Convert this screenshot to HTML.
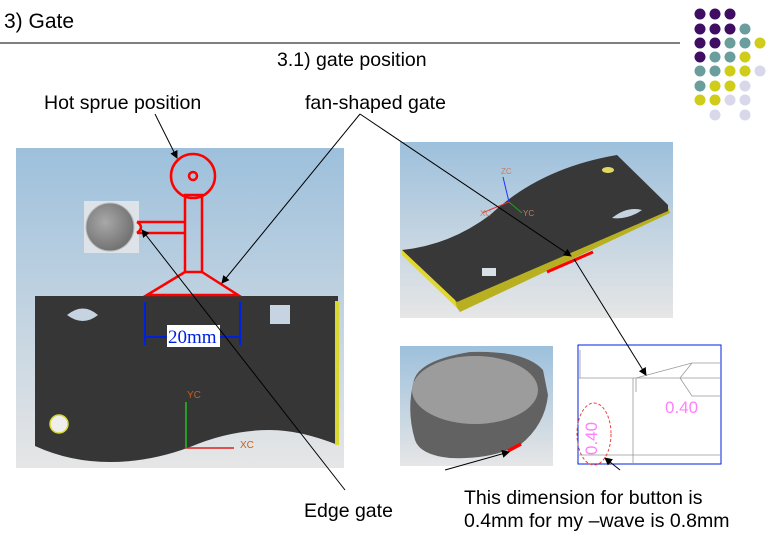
<!DOCTYPE html>
<html><head><meta charset="utf-8"><style>
body{margin:0;background:#fff;}
svg{display:block;font-family:"Liberation Sans",sans-serif;}
</style></head><body>
<svg width="772" height="535" viewBox="0 0 772 535" xmlns="http://www.w3.org/2000/svg">
<defs>
<linearGradient id="sky" x1="0" y1="0" x2="0" y2="1"><stop offset="0" stop-color="#9dc0dc"/><stop offset="1" stop-color="#e6e6e6"/></linearGradient>
<radialGradient id="btn" cx="0.4" cy="0.4" r="0.7"><stop offset="0" stop-color="#a8a8a8"/><stop offset="1" stop-color="#6a6a6a"/></radialGradient>
<marker id="ar" markerWidth="8" markerHeight="8" refX="7" refY="4" orient="auto" markerUnits="userSpaceOnUse"><path d="M0,0 L8,4 L0,8 z" fill="#000"/></marker>
</defs>
<text x="4" y="28" font-size="21">3) Gate</text>
<line x1="0" y1="43" x2="680" y2="43" stroke="#000" stroke-width="1"/>
<text x="277" y="66" font-size="19.5">3.1) gate position</text>
<text x="44" y="109" font-size="19.5">Hot sprue position</text>
<text x="305" y="109" font-size="19.5">fan-shaped gate</text>
<text x="304" y="517" font-size="19.5">Edge gate</text>
<text x="464" y="504" font-size="19.5">This dimension for button is</text>
<text x="464" y="527" font-size="19.5">0.4mm for my –wave is 0.8mm</text>

<g>
<circle cx="700" cy="14" r="5.5" fill="#3f0e62"/><circle cx="715" cy="14" r="5.5" fill="#3f0e62"/><circle cx="730" cy="14" r="5.5" fill="#3f0e62"/>
<circle cx="700" cy="29" r="5.5" fill="#3f0e62"/><circle cx="715" cy="29" r="5.5" fill="#3f0e62"/><circle cx="730" cy="29" r="5.5" fill="#3f0e62"/><circle cx="745" cy="29" r="5.5" fill="#6a9e9c"/>
<circle cx="700" cy="43" r="5.5" fill="#3f0e62"/><circle cx="715" cy="43" r="5.5" fill="#3f0e62"/><circle cx="730" cy="43" r="5.5" fill="#6a9e9c"/><circle cx="745" cy="43" r="5.5" fill="#6a9e9c"/><circle cx="760" cy="43" r="5.5" fill="#cfcc1a"/>
<circle cx="700" cy="57" r="5.5" fill="#3f0e62"/><circle cx="715" cy="57" r="5.5" fill="#6a9e9c"/><circle cx="730" cy="57" r="5.5" fill="#6a9e9c"/><circle cx="745" cy="57" r="5.5" fill="#cfcc1a"/>
<circle cx="700" cy="71" r="5.5" fill="#6a9e9c"/><circle cx="715" cy="71" r="5.5" fill="#6a9e9c"/><circle cx="730" cy="71" r="5.5" fill="#cfcc1a"/><circle cx="745" cy="71" r="5.5" fill="#cfcc1a"/><circle cx="760" cy="71" r="5.5" fill="#d9d8ea"/>
<circle cx="700" cy="86" r="5.5" fill="#6a9e9c"/><circle cx="715" cy="86" r="5.5" fill="#cfcc1a"/><circle cx="730" cy="86" r="5.5" fill="#cfcc1a"/><circle cx="745" cy="86" r="5.5" fill="#d9d8ea"/>
<circle cx="700" cy="100" r="5.5" fill="#cfcc1a"/><circle cx="715" cy="100" r="5.5" fill="#cfcc1a"/><circle cx="730" cy="100" r="5.5" fill="#d9d8ea"/><circle cx="745" cy="100" r="5.5" fill="#d9d8ea"/>
<circle cx="715" cy="115" r="5.5" fill="#d9d8ea"/><circle cx="745" cy="115" r="5.5" fill="#d9d8ea"/>
</g>

<!-- left image -->
<rect x="16" y="148" width="328" height="320" fill="url(#sky)"/>
<path d="M35,296 L338,296 L338,445 Q300,430 270,430 Q230,430 190,447 Q150,462 110,462 Q70,462 35,446 Z" fill="#363636"/>
<rect x="335" y="301" width="4" height="144" fill="#d8d830"/>
<path d="M67,315 Q83,302 98,315 Q83,327 67,315Z" fill="#c5d4e0"/>
<rect x="270" y="305" width="20" height="19" fill="#c5d4e0"/>
<circle cx="59" cy="424" r="9" fill="#eee" stroke="#d8d830" stroke-width="1.5"/>
<line x1="186" y1="402" x2="186" y2="448" stroke="#20c020" stroke-width="1.5"/>
<line x1="186" y1="448" x2="234" y2="448" stroke="#e02020" stroke-width="1.5"/>
<text x="187" y="398" font-size="10" fill="#c06020">YC</text>
<text x="240" y="448" font-size="10" fill="#c06020">XC</text>
<rect x="84" y="201" width="55" height="52" fill="#dde3e8"/>
<circle cx="110" cy="227" r="24" fill="url(#btn)" stroke="#bbb"/>
<g fill="none" stroke="#f00" stroke-width="2.5">
<circle cx="193" cy="176" r="22"/><circle cx="193" cy="176" r="4"/>
<rect x="185" y="195" width="17" height="77"/>
<path d="M137,222 L185,222 M137,233 L185,233 M137,222 Q145,227 137,233"/>
<path d="M185,272 L147,295 L238,295 L202,272"/>
</g>
<g stroke="#0020e0" stroke-width="2" fill="none">
<line x1="145" y1="302" x2="145" y2="345"/><line x1="240" y1="302" x2="240" y2="345"/>
<line x1="145" y1="337" x2="240" y2="337"/>
</g>
<rect x="167" y="325" width="53" height="22" fill="#fff"/>
<text x="168" y="343" font-size="19" fill="#0020e0" font-family="Liberation Serif,serif">20mm</text>

<!-- top right image -->
<rect x="400" y="142" width="273" height="176" fill="url(#sky)"/>
<path d="M402,253 L455,305 L460,312 L670,213 L668,207 Z" fill="#b8b020"/>
<path d="M402,250 Q450,245 490,215 Q540,168 617,155 L668,205 L668,211 L457,302 Z" fill="#383838"/>
<path d="M402,250 L455,300 L457,308 L402,255Z" fill="#e0d830"/>
<ellipse cx="608" cy="170" rx="6" ry="3" fill="#e0d860"/>
<path d="M612,218 Q627,206 642,210 Q628,220 612,218Z" fill="#c5d4e0"/>
<rect x="482" y="268" width="14" height="8" fill="#d8e0e8"/>
<line x1="547" y1="272" x2="593" y2="252" stroke="#f00" stroke-width="3"/>
<line x1="509" y1="202" x2="503" y2="177" stroke="#2030ff"/><line x1="509" y1="202" x2="482" y2="213" stroke="#f03030"/><line x1="509" y1="202" x2="522" y2="213" stroke="#20a020"/>
<text x="501" y="174" font-size="8" fill="#c08060">ZC</text>
<text x="480" y="216" font-size="8" fill="#c08060">XC</text>
<text x="523" y="216" font-size="8" fill="#c08060">YC</text>

<!-- button -->
<rect x="400" y="346" width="153" height="120" fill="url(#sky)"/>
<path d="M414,380 Q420,360 470,352 Q525,350 543,370 L548,395 Q545,425 520,445 Q490,460 450,458 Q420,455 415,440 Q406,410 414,380Z" fill="#626262"/>
<ellipse cx="475" cy="390" rx="63" ry="34" fill="#9c9c9c"/>
<line x1="508" y1="451" x2="521" y2="444" stroke="#f00" stroke-width="3.5"/>

<!-- detail box -->
<rect x="578" y="345" width="143" height="119" fill="#fff" stroke="#0020e0" stroke-width="1"/>
<g stroke="#999" fill="none" stroke-width="0.8">
<line x1="578" y1="378" x2="721" y2="378"/><line x1="578" y1="455" x2="721" y2="455"/>
<line x1="633" y1="378" x2="633" y2="464"/><line x1="636" y1="378" x2="636" y2="392"/>
<path d="M636,378 L692,363 L721,363 M692,363 L680,378 L692,396 L721,396"/>
<line x1="580" y1="350" x2="580" y2="378"/>
</g>
<text x="665" y="413" font-size="17" fill="#ff80ff">0.40</text>
<text x="597" y="455" font-size="17" fill="#ff80ff" transform="rotate(-90 597 455)">0.40</text>
<ellipse cx="594" cy="434" rx="17" ry="31" fill="none" stroke="#f04040" stroke-dasharray="3,2"/>

<g stroke="#000" stroke-width="1" fill="none">
<line x1="155" y1="114" x2="177" y2="158" marker-end="url(#ar)"/>
<line x1="360" y1="114" x2="222" y2="283" marker-end="url(#ar)"/>
<line x1="360" y1="114" x2="571" y2="256" marker-end="url(#ar)"/>
<line x1="574" y1="259" x2="646" y2="375" marker-end="url(#ar)"/>
<line x1="345" y1="490" x2="142" y2="230" marker-end="url(#ar)"/>
<line x1="445" y1="470" x2="509" y2="452" marker-end="url(#ar)"/>
<line x1="620" y1="470" x2="605" y2="458" marker-end="url(#ar)"/>
</g>
</svg>
</body></html>
